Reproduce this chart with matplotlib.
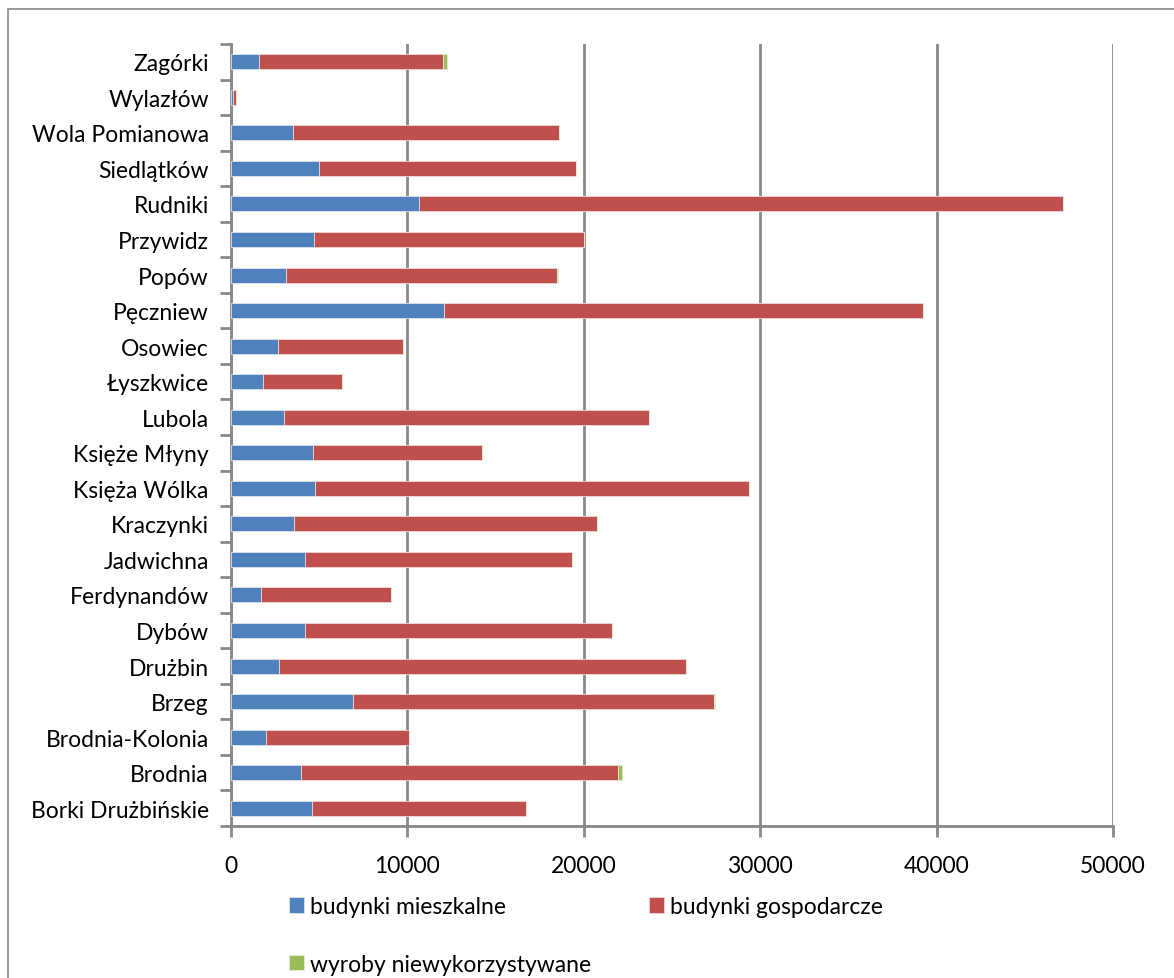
import matplotlib
matplotlib.use('Agg')
import matplotlib.pyplot as plt
import numpy as np
from matplotlib.patches import Rectangle

# categories listed bottom to top
villages = ['Borki Drużbińskie', 'Brodnia', 'Brodnia-Kolonia', 'Brzeg', 'Drużbin',
            'Dybów', 'Ferdynandów', 'Jadwichna', 'Kraczynki', 'Księża Wólka',
            'Księże Młyny', 'Lubola', 'Łyszkwice', 'Osowiec', 'Pęczniew', 'Popów',
            'Przywidz', 'Rudniki', 'Siedlątków', 'Wola Pomianowa', 'Wylazłów', 'Zagórki']

mieszkalne = [4590, 3990, 2000, 6930, 2700, 4180, 1720, 4210, 3590, 4740,
              4630, 2990, 1830, 2680, 12090, 3100, 4690, 10670, 5010, 3510, 130, 1600]
gospodarcze = [12150, 17950, 8070, 20450, 23110, 17420, 7330, 15140, 17180, 24610,
               9620, 20710, 4480, 7090, 27160, 15400, 15300, 36480, 14530, 15080, 170, 10440]
niewykorzystywane = [0, 240, 0, 50, 0, 0, 0, 0, 0, 0,
                     0, 0, 0, 0, 0, 50, 0, 0, 0, 0, 0, 200]

plt.rcParams['font.family'] = ['Lato', 'DejaVu Sans']
fs = 16.5

fig = plt.figure(figsize=(11.74, 9.79), dpi=100)
ax = fig.add_axes([231 / 1174, 1 - 827 / 979, 882 / 1174, 782 / 979])

y = np.arange(len(villages))
m = np.array(mieszkalne)
g = np.array(gospodarcze)
n = np.array(niewykorzystywane)
h = 0.42
b1 = ax.barh(y, m, height=h, color='#4F81BD', edgecolor='#dbe4f0', linewidth=0.6,
             label='budynki mieszkalne', zorder=3)
b2 = ax.barh(y, g, left=m, height=h, color='#C0504D', edgecolor='#f0d6d5', linewidth=0.6,
             label='budynki gospodarcze', zorder=3)
b3 = ax.barh(y, n, left=m + g, height=h, color='#9BBB59', edgecolor='#e3ecd3', linewidth=0.6,
             label='wyroby niewykorzystywane', zorder=3)

ax.set_xlim(0, 50000)
ax.set_ylim(-0.5, len(villages) - 0.5)
ax.set_xticks(np.arange(0, 50001, 10000))
ax.set_yticks(y)
ax.set_yticklabels(villages)
ax.set_yticks(np.arange(-0.5, len(villages), 1), minor=True)
ax.tick_params(axis='y', which='major', length=0, pad=16, labelsize=fs)
ax.tick_params(axis='y', which='minor', length=8, width=2, color='#888888', direction='out')
ax.tick_params(axis='x', length=8, width=2, color='#888888', direction='out', pad=13, labelsize=fs)

ax.grid(axis='x', color='#888888', linewidth=2, zorder=0)
for s in ['top', 'right']:
    ax.spines[s].set_visible(False)
for s in ['left', 'bottom']:
    ax.spines[s].set_color('#888888')
    ax.spines[s].set_linewidth(2)

# outer chart border
fig.patches.append(Rectangle((8 / 1174, -0.01), 1.0, 1 - 10 / 979 + 0.01,
                             transform=fig.transFigure, fill=False,
                             edgecolor='#888888', linewidth=1.2))

# column-major fill: order so that the first row holds the two building series
fig.legend([b1, b3, b2], ['budynki mieszkalne', 'wyroby niewykorzystywane', 'budynki gospodarcze'],
           loc='center', bbox_to_anchor=(0.499, 0.0434), ncol=2, frameon=False,
           fontsize=fs, handlelength=0.65, handleheight=0.65, handletextpad=0.25,
           columnspacing=2.55, labelspacing=1.6)

fig.savefig('out.png', dpi=100)
